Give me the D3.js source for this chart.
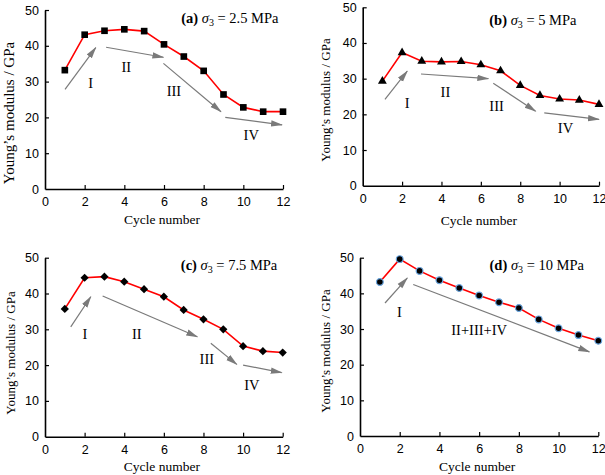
<!DOCTYPE html>
<html>
<head>
<meta charset="utf-8">
<script src="https://cdn.jsdelivr.net/npm/d3@7"></script>
<style>
  html, body { margin: 0; padding: 0; background: #fff; }
  svg { display: block; }
</style>
</head>
<body>
<svg id="chart" width="605" height="475"></svg>
<script>
// ---------------- DATA ----------------
const cycles = [1, 2, 3, 4, 5, 6, 7, 8, 9, 10, 11, 12];
const modulusA = [33.2, 43.1, 44.2, 44.6, 44.1, 40.4, 37.0, 33.0, 26.4, 22.8, 21.6, 21.6];
const modulusB = [29.3, 37.3, 34.9, 34.7, 34.8, 33.9, 32.2, 28.1, 25.3, 24.3, 24.0, 22.8];
const modulusC = [35.7, 44.4, 44.7, 43.3, 41.2, 39.1, 35.4, 32.8, 30.0, 25.3, 23.9, 23.5];
const modulusD = [43.2, 49.6, 46.3, 43.7, 41.5, 39.4, 37.5, 35.9, 32.7, 30.2, 28.3, 26.7];
const xTicks = [0, 2, 4, 6, 8, 10, 12];
const yTicks = [0, 10, 20, 30, 40, 50];
const panelLetters = ["a", "b", "c", "d"];
const sigma3Values = ["2.5", "5", "7.5", "10"];
// stage arrows: [x1, y1, x2, y2] in data units
const arrowsA = [[1.01, 27.8, 2.56, 39.5], [3.08, 39.6, 5.97, 36.8], [5.97, 35.1, 8.87, 21.6], [9.09, 20.0, 11.95, 17.9]];
const arrowsB = [[1.13, 24.2, 2.26, 32.1], [2.96, 31.3, 6.38, 30.0], [6.63, 28.7, 8.78, 20.9], [9.22, 20.4, 12.0, 18.6]];
const arrowsC = [[1.3, 30.7, 2.31, 39.1], [2.91, 39.3, 7.69, 27.9], [8.37, 26.1, 9.68, 20.2], [10.0, 20.0, 11.95, 17.9]];
const arrowsD = [[1.26, 37.3, 2.38, 44.3], [2.68, 42.5, 11.55, 23.6]];
// stage labels: [text, x, y] in data units
const stagesA = [["I", 2.3, 29.7], ["II", 4.1, 34.2], ["III", 6.5, 27.5], ["IV", 10.4, 15.0]];
const stagesB = [["I", 2.26, 23.1], ["II", 4.2, 26.3], ["III", 6.8, 22.3], ["IV", 10.3, 16.1]];
const stagesC = [["I", 2.02, 28.7], ["II", 4.63, 28.7], ["III", 8.17, 21.6], ["IV", 10.44, 14.4]];
const stagesD = [["I", 1.98, 34.8], ["II+III+IV", 6.0, 29.7]];

// ---------------- LAYOUT ----------------
const layouts = [
  { x0: 45, x1: 283, yTop: 10, yBot: 189, titleX: 278.5, titleY: 23, yLabX: 9, yLabCY: 113, yLabSize: 15, xLabY: 223.5, marker: "square" },
  { x0: 362.7, x1: 599, yTop: 7.3, yBot: 185.7, titleX: 576.5, titleY: 24.5, yLabX: 325, yLabCY: 100, yLabSize: 13, xLabY: 224.5, marker: "triangle" },
  { x0: 45, x1: 282.7, yTop: 257.7, yBot: 436.7, titleX: 277.3, titleY: 270, yLabX: 10, yLabCY: 353, yLabSize: 13, xLabY: 471, marker: "diamond" },
  { x0: 360, x1: 598.3, yTop: 257.7, yBot: 436, titleX: 584, titleY: 270, yLabX: 325, yLabCY: 351, yLabSize: 13, xLabY: 471, marker: "circle" }
];
const seriesList = [modulusA, modulusB, modulusC, modulusD];
const arrowList = [arrowsA, arrowsB, arrowsC, arrowsD];
const stageList = [stagesA, stagesB, stagesC, stagesD];

const svg = d3.select("#chart");
const serif = "'Liberation Serif', 'Times New Roman', Times, serif";
const sans = "'Liberation Sans', Arial, Helvetica, sans-serif";
const arrowGray = "#7a7a7a";

svg.append("defs").append("marker")
  .attr("id", "ah")
  .attr("markerUnits", "userSpaceOnUse")
  .attr("viewBox", "0 0 12 8")
  .attr("refX", 11).attr("refY", 4)
  .attr("markerWidth", 12).attr("markerHeight", 8)
  .attr("orient", "auto")
  .append("path")
  .attr("d", "M0,0.8 L12,4 L0,7.2 Z")
  .attr("fill", arrowGray);

layouts.forEach((L, i) => {
  const g = svg.append("g");
  const x = d3.scaleLinear().domain([0, 12]).range([L.x0, L.x1]);
  const y = d3.scaleLinear().domain([0, 50]).range([L.yBot, L.yTop]);

  // axes (ticks pointing inward)
  const xAxis = g.append("g").attr("transform", `translate(0,${L.yBot})`)
    .call(d3.axisBottom(x).tickValues(xTicks).tickSizeInner(-4).tickSizeOuter(0).tickPadding(10));
  const yAxis = g.append("g").attr("transform", `translate(${L.x0},0)`)
    .call(d3.axisLeft(y).tickValues(yTicks).tickSizeInner(-4).tickSizeOuter(0).tickPadding(10));
  [xAxis, yAxis].forEach(ax => {
    ax.select(".domain").attr("stroke", "#000").attr("stroke-width", 1.6);
    ax.selectAll(".tick line").attr("stroke", "#000").attr("stroke-width", 1.2);
    ax.selectAll(".tick text").attr("fill", "#000")
      .style("font-family", sans).style("font-size", "12.5px");
  });
  yAxis.selectAll(".tick text").attr("x", -6);
  xAxis.selectAll(".tick text").attr("y", 8);
  // remove the tick marks at 0 (axis corner)
  xAxis.selectAll(".tick").filter(d => d === 0).select("line").remove();
  yAxis.selectAll(".tick").filter(d => d === 0).select("line").remove();

  // axis labels
  g.append("text")
    .attr("x", (L.x0 + L.x1) / 2 - 2).attr("y", L.xLabY)
    .attr("text-anchor", "middle")
    .style("font-family", serif).style("font-size", "13.5px")
    .text("Cycle number");
  g.append("text")
    .attr("transform", `translate(${L.yLabX + L.yLabSize * 0.35},${L.yLabCY}) rotate(-90)`)
    .attr("text-anchor", "middle")
    .style("font-family", serif).style("font-size", L.yLabSize + "px")
    .text("Young\u2019s modulus / GPa");

  // stage arrows
  g.selectAll(".arr").data(arrowList[i]).join("line")
    .attr("x1", d => x(d[0])).attr("y1", d => y(d[1]))
    .attr("x2", d => x(d[2])).attr("y2", d => y(d[3]))
    .attr("stroke", arrowGray).attr("stroke-width", 1.2)
    .attr("marker-end", "url(#ah)");

  // stage labels
  g.selectAll(".stage").data(stageList[i]).join("text")
    .attr("x", d => x(d[1])).attr("y", d => y(d[2]))
    .attr("text-anchor", "middle").attr("dominant-baseline", "central")
    .style("font-family", serif).style("font-size", "14.5px")
    .text(d => d[0]);

  // line
  const vals = seriesList[i];
  g.append("path")
    .datum(vals)
    .attr("fill", "none").attr("stroke", "#ff0000").attr("stroke-width", 1.6)
    .attr("d", d3.line().x((d, k) => x(cycles[k])).y(d => y(d)));

  // markers
  let sym, size, rot = 0, stroke = "none";
  if (L.marker === "square") { sym = d3.symbolSquare; size = 44; }
  else if (L.marker === "triangle") { sym = d3.symbolTriangle; size = 34; }
  else if (L.marker === "diamond") { sym = d3.symbolSquare; size = 34; rot = 45; }
  else { sym = d3.symbolCircle; size = 36; stroke = "#6aa6e0"; }
  g.selectAll(".pt").data(vals).join("path")
    .attr("transform", (d, k) => `translate(${x(cycles[k])},${y(d)}) rotate(${rot})`)
    .attr("d", d3.symbol().type(sym).size(size))
    .attr("fill", "#000")
    .attr("stroke", stroke).attr("stroke-width", 1.2);

  // title
  const t = g.append("text")
    .attr("x", L.titleX).attr("y", L.titleY)
    .attr("text-anchor", "end")
    .style("font-family", serif).style("font-size", "14.5px");
  t.append("tspan").style("font-weight", "bold").text(`(${panelLetters[i]}) `);
  t.append("tspan").style("font-style", "italic").text("\u03C3");
  t.append("tspan").attr("dy", 3).style("font-size", "10px").text("3");
  t.append("tspan").attr("dy", -3).text(` = ${sigma3Values[i]} MPa`);
});
</script>
</body>
</html>
